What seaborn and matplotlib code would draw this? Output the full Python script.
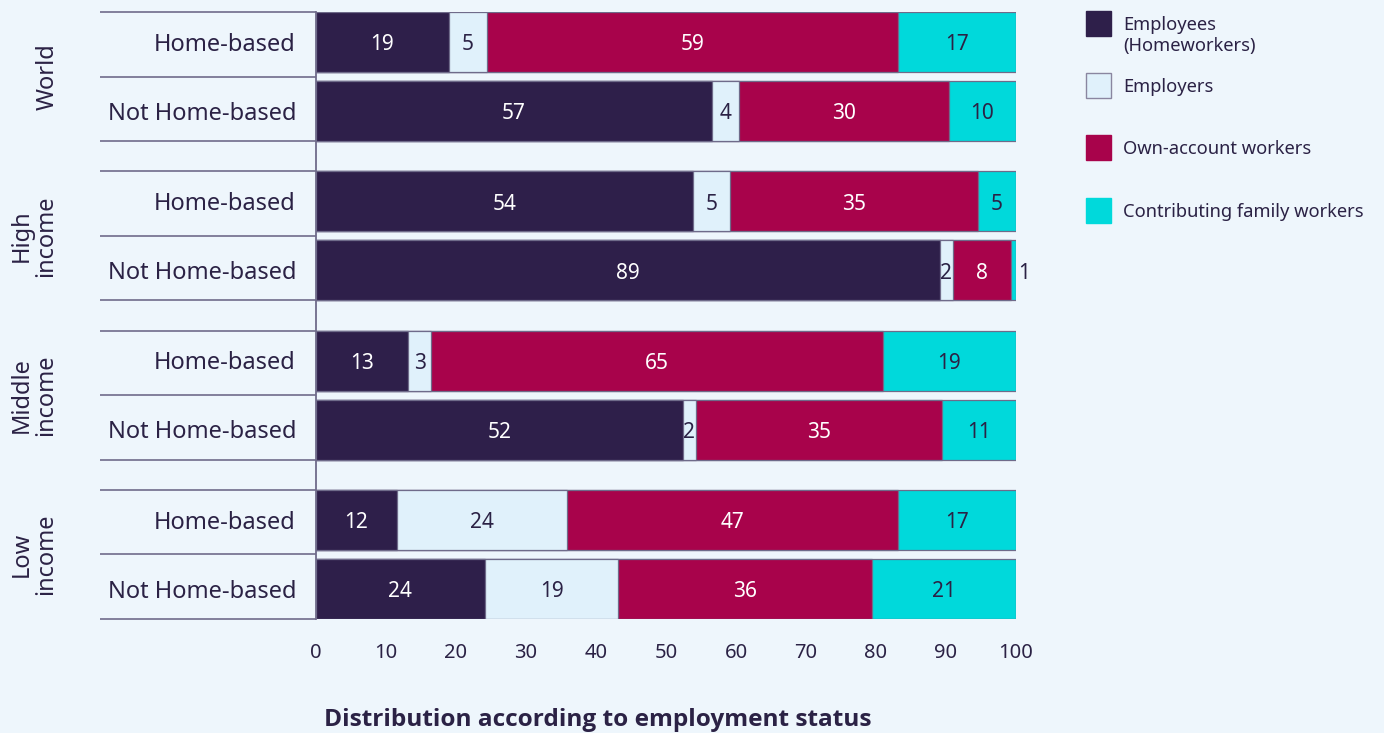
import numpy as np
import pandas as pd
import matplotlib
matplotlib.use("Agg")
import matplotlib.pyplot as plt
from matplotlib.patches import Rectangle
from matplotlib.transforms import blended_transform_factory
import seaborn as sns

# ---------------- data ----------------
groups = ["World", "High\nincome", "Middle\nincome", "Low\nincome"]
rows = ["Home-based", "Not Home-based"]
statuses = ["Employees\n(Homeworkers)", "Employers", "Own-account workers",
            "Contributing family workers"]
# order: World HB, World NHB, High HB, High NHB, Middle HB, Middle NHB, Low HB, Low NHB
employees = [19.0, 56.6, 53.8, 89.1, 13.2, 52.4, 11.6, 24.1]
employers = [5.4, 3.8, 5.4, 1.9, 3.2, 1.9, 24.3, 19.1]
own_account = [58.8, 30.0, 35.4, 8.3, 64.6, 35.1, 47.2, 36.2]
contributing = [16.8, 9.6, 5.4, 0.7, 19.0, 10.6, 16.9, 20.6]
x_ticks = [0, 10, 20, 30, 40, 50, 60, 70, 80, 90, 100]
x_title = "Distribution according to employment status"

# ---------------- style ----------------
BG = "#eef6fc"
TXT = "#2b2245"
LINE = "#6f6b8a"
colors = ["#2e1f4a", "#e0f1fb", "#a8034b", "#00d9db"]
label_colors = ["white", TXT, "white", TXT]

sns.set_theme(style="white")
plt.rcParams["font.family"] = ["Noto Sans", "DejaVu Sans"]
plt.rcParams["text.color"] = TXT

W, H = 1384, 733
fig = plt.figure(figsize=(W / 100, H / 100), dpi=100, facecolor=BG)

# axes occupies bar area: x 316..1016 px, y 12..619 px
ax_l, ax_r, ax_t, ax_b = 316, 1016, 12, 619
ax = fig.add_axes([ax_l / W, 1 - ax_b / H, (ax_r - ax_l) / W, (ax_b - ax_t) / H])
ax.set_facecolor(BG)

# vertical layout (row pitch = 1 unit)
group_pitch = 2.309
bar_h = 0.87
positions = []
for g in range(len(groups)):
    for r in range(len(rows)):
        positions.append(g * group_pitch + r)
positions = np.array(positions)

series = [employees, employers, own_account, contributing]
vals = np.array(series)            # shape (4, 8)
cums = np.cumsum(vals, axis=0)

df = pd.DataFrame({"pos": positions})
for i in range(len(series)):
    df[f"cum{i}"] = cums[i]

# stacked: draw cumulative totals from the largest down
for i in reversed(range(len(series))):
    sns.barplot(data=df, x=f"cum{i}", y="pos", orient="y", native_scale=True,
                color=colors[i], saturation=1, width=bar_h, errorbar=None,
                edgecolor=LINE, linewidth=0.9, ax=ax)

# segment labels
dy = 0.04
for i in range(len(series)):
    for j, p in enumerate(positions):
        v = vals[i, j]
        start = cums[i, j] - v
        txt = f"{v:.0f}"
        if v < 1.5:
            ax.text(cums[i, j] + 0.3, p + dy, txt, ha="left", va="center",
                    fontsize=15, color=TXT, clip_on=False)
        else:
            ax.text(start + v / 2, p + dy, txt, ha="center", va="center",
                    fontsize=15, color=label_colors[i])

ax.set_xlim(0, 100)
ymin = -bar_h / 2
ymax = positions[-1] + bar_h / 2
ax.set_ylim(ymax, ymin)
ax.set_xticks(x_ticks)
ax.set_xticklabels([str(t) for t in x_ticks], fontsize=14.5, color=TXT)
ax.tick_params(axis="x", length=0, pad=17.5)
ax.set_yticks([])
ax.set_xlabel("")
ax.set_ylabel("")
for s in ["top", "right", "bottom"]:
    ax.spines[s].set_visible(False)
ax.spines["left"].set_color(LINE)
ax.spines["left"].set_linewidth(1.3)

# table-like label area
trans = blended_transform_factory(ax.transAxes, ax.transData)
x_line0 = (100 - ax_l) / (ax_r - ax_l)
x_row = (296 - ax_l) / (ax_r - ax_l)
for g in range(len(groups)):
    p0 = positions[2 * g]
    p1 = positions[2 * g + 1]
    for yy in [p0 - bar_h / 2, (p0 + p1) / 2, p1 + bar_h / 2]:
        ax.plot([x_line0, 0], [yy, yy], transform=trans, color=LINE, lw=1.2,
                clip_on=False, solid_capstyle="butt")
    for r in range(len(rows)):
        ax.text(x_row, positions[2 * g + r] + dy, rows[r], transform=trans,
                ha="right", va="center", fontsize=17, color=TXT)
    gx = 47.5 if "\n" not in groups[g] else 34
    ax.text((gx - ax_l) / (ax_r - ax_l), (p0 + p1) / 2, groups[g], transform=trans,
            rotation=90, ha="center", va="center", fontsize=17, color=TXT,
            linespacing=1.05, multialignment="center")

# x title
fig.text(598 / W, 1 - 720 / H, x_title, ha="center", va="center",
         fontsize=17.6, fontweight="bold", color=TXT,
         family=["Open Sans", "DejaVu Sans"])

# legend (drawn at fixed pixel positions)
leg_y = [23.5, 85.5, 147.5, 210]
for i, lab in enumerate(statuses):
    y = leg_y[i]
    rect = Rectangle((1086 / W, 1 - (y + 12.5) / H), 25 / W, 25 / H,
                     transform=fig.transFigure, facecolor=colors[i],
                     edgecolor="#8a86a0" if i == 1 else colors[i], lw=1)
    fig.add_artist(rect)
    fig.text(1123 / W, 1 - (y - 7) / H, lab, ha="left", va="top",
             fontsize=13.2, color=TXT, linespacing=1.15)

fig.savefig("out.png", dpi=100, facecolor=BG)
